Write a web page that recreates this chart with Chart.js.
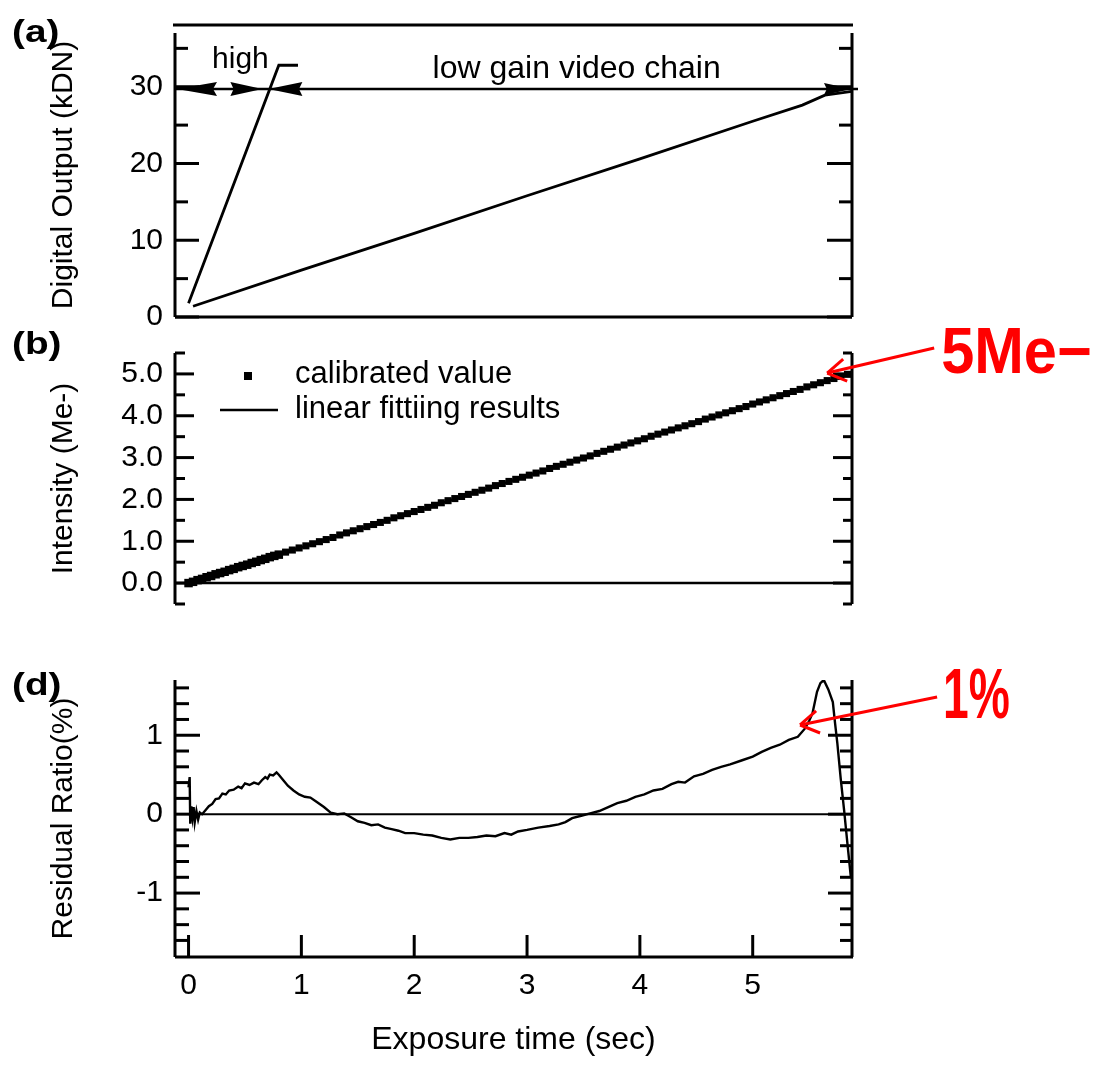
<!DOCTYPE html>
<html>
<head>
<meta charset="utf-8">
<script src="https://cdn.jsdelivr.net/npm/chart.js@4.4.1/dist/chart.umd.min.js"></script>
<style>
  html, body { margin: 0; padding: 0; background: #fff; }
  #wrap { position: relative; width: 1097px; height: 1067px; }
  #wrap canvas { position: absolute; left: 0; top: 0; }
</style>
</head>
<body>
<div id="wrap">
  <canvas id="chartA" width="1097" height="1067"></canvas>
  <canvas id="chartB" width="1097" height="1067"></canvas>
  <canvas id="chartD" width="1097" height="1067"></canvas>
</div>
<script>
// values
const highGainTime = [0.00, 0.80, 0.97];
const highGainKDN  = [1.8, 32.8, 32.8];
const lowGainTime  = [0.04, 1.0, 2.0, 3.0, 4.0, 5.0, 5.44, 5.64, 5.88];
const lowGainKDN   = [1.4, 6.1, 10.9, 15.8, 20.6, 25.5, 27.6, 28.9, 29.4];

const calTime = [0, 0.04, 0.08, 0.12, 0.16, 0.20, 0.24, 0.28, 0.32, 0.36, 0.40, 0.44, 0.48, 0.52, 0.56, 0.60, 0.64, 0.68, 0.72, 0.76, 0.80,
  0.86, 0.92, 0.98, 1.04, 1.10, 1.16, 1.22, 1.28, 1.34, 1.40, 1.46, 1.52, 1.58, 1.64, 1.70, 1.76, 1.82, 1.88, 1.94, 2.00,
  2.06, 2.12, 2.18, 2.24, 2.30, 2.36, 2.42, 2.48, 2.54, 2.60, 2.66, 2.72, 2.78, 2.84, 2.90, 2.96, 3.02, 3.08, 3.14, 3.20,
  3.26, 3.32, 3.38, 3.44, 3.50, 3.56, 3.62, 3.68, 3.74, 3.80, 3.86, 3.92, 3.98, 4.04, 4.10, 4.16, 4.22, 4.28, 4.34, 4.40,
  4.46, 4.52, 4.58, 4.64, 4.70, 4.76, 4.82, 4.88, 4.94, 5.00, 5.06, 5.12, 5.18, 5.24, 5.30, 5.36, 5.42, 5.48, 5.54, 5.60,
  5.66, 5.72, 5.78, 5.84];
const calIntensity = [0.00, 0.03, 0.07, 0.10, 0.14, 0.17, 0.21, 0.24, 0.27, 0.31, 0.34, 0.38, 0.41, 0.44, 0.48, 0.51, 0.55, 0.58, 0.62, 0.65, 0.68,
  0.74, 0.79, 0.84, 0.89, 0.94, 0.99, 1.04, 1.09, 1.15, 1.20, 1.25, 1.30, 1.35, 1.40, 1.45, 1.50, 1.56, 1.61, 1.66, 1.71,
  1.76, 1.81, 1.86, 1.92, 1.97, 2.02, 2.07, 2.12, 2.17, 2.22, 2.27, 2.33, 2.38, 2.43, 2.48, 2.53, 2.58, 2.63, 2.68, 2.74,
  2.79, 2.84, 2.89, 2.94, 2.99, 3.04, 3.10, 3.15, 3.20, 3.25, 3.30, 3.35, 3.40, 3.45, 3.51, 3.56, 3.61, 3.66, 3.71, 3.76,
  3.81, 3.86, 3.92, 3.97, 4.02, 4.07, 4.12, 4.17, 4.22, 4.28, 4.33, 4.38, 4.43, 4.48, 4.53, 4.58, 4.63, 4.69, 4.74, 4.79,
  4.84, 4.89, 4.94, 4.99];
const fitTime = [0, 5.88];
const fitIntensity = [0, 5.02];

const resTime = [0.00, 0.01, 0.015, 0.025, 0.035, 0.045, 0.055, 0.07, 0.085, 0.10,
  0.12, 0.15, 0.18, 0.21, 0.24, 0.27, 0.30, 0.33, 0.36, 0.40,
  0.44, 0.47, 0.50, 0.54, 0.58, 0.62, 0.65, 0.68, 0.70, 0.72,
  0.75, 0.78, 0.80, 0.84, 0.88, 0.93, 0.98, 1.03, 1.08, 1.14,
  1.20, 1.26, 1.32, 1.38, 1.44, 1.50, 1.56, 1.62, 1.68, 1.74,
  1.80, 1.86, 1.92, 2.00, 2.08, 2.16, 2.24, 2.32, 2.40, 2.48,
  2.56, 2.64, 2.72, 2.80, 2.86, 2.92, 3.00, 3.10, 3.20, 3.28,
  3.34, 3.40, 3.48, 3.56, 3.64, 3.72, 3.80, 3.88, 3.96, 4.04,
  4.12, 4.20, 4.28, 4.34, 4.40, 4.48, 4.56, 4.64, 4.72, 4.80,
  4.90, 5.00, 5.08, 5.16, 5.24, 5.32, 5.40, 5.46, 5.50, 5.53,
  5.57, 5.60, 5.63, 5.67, 5.71, 5.73, 5.75, 5.78, 5.81, 5.84, 5.87];
const resRatio = [0.34, 0.47, -0.12, 0.10, -0.04, 0.09, -0.10, 0.04, -0.07, 0.02,
  0.00, 0.05, 0.10, 0.13, 0.19, 0.20, 0.26, 0.25, 0.30, 0.31,
  0.35, 0.33, 0.39, 0.37, 0.40, 0.38, 0.43, 0.47, 0.45, 0.50,
  0.49, 0.53, 0.50, 0.43, 0.36, 0.30, 0.25, 0.22, 0.21, 0.15,
  0.09, 0.02, 0.00, 0.01, -0.04, -0.09, -0.11, -0.14, -0.13, -0.17,
  -0.19, -0.21, -0.24, -0.24, -0.26, -0.27, -0.30, -0.32, -0.30, -0.30,
  -0.29, -0.27, -0.28, -0.24, -0.26, -0.22, -0.20, -0.17, -0.15, -0.13,
  -0.10, -0.05, -0.02, 0.01, 0.04, 0.09, 0.14, 0.17, 0.22, 0.25,
  0.30, 0.32, 0.38, 0.41, 0.40, 0.48, 0.51, 0.56, 0.60, 0.63,
  0.68, 0.73, 0.79, 0.84, 0.88, 0.94, 0.98, 1.08, 1.18, 1.28,
  1.55, 1.66, 1.70, 1.58, 1.42, 1.15, 0.90, 0.45, 0.05, -0.38, -0.80];

// tick values
const xTicks = [0, 1, 2, 3, 4, 5];
const kdnMajor = [0, 10, 20, 30];
const kdnMinor = [5, 15, 25, 35];
const intMajor = [0, 1, 2, 3, 4, 5];
const intMinor = [-0.5, 0.5, 1.5, 2.5, 3.5, 4.5, 5.5];
const resMajor = [-1, 0, 1];
const resMinor = [-1.6, -1.4, -1.2, -0.8, -0.6, -0.4, -0.2, 0.2, 0.4, 0.6, 0.8, 1.2, 1.4, 1.6];

const FONT = '"Liberation Sans", Arial, sans-serif';
Chart.defaults.font.family = FONT;
Chart.defaults.color = '#000';
Chart.defaults.animation = false;

const pts = (xs, ys) => xs.map((x, i) => ({ x: x, y: ys[i] }));
const X_MIN = -0.12, X_MAX = 5.88;

function seg(ctx, x1, y1, x2, y2, w, color) {
  ctx.strokeStyle = color || '#000';
  ctx.lineWidth = w;
  ctx.beginPath();
  ctx.moveTo(x1, y1);
  ctx.lineTo(x2, y2);
  ctx.stroke();
}

// filled arrow head, dir = 1 points right, -1 points left
function head(ctx, tx, ty, dir, len, half) {
  ctx.fillStyle = '#000';
  ctx.beginPath();
  ctx.moveTo(tx, ty);
  ctx.lineTo(tx - dir * len, ty - half);
  ctx.lineTo(tx - dir * len * 0.9, ty);
  ctx.lineTo(tx - dir * len, ty + half);
  ctx.closePath();
  ctx.fill();
}

function stretchText(ctx, text, x, y, font, sx, color) {
  ctx.save();
  ctx.font = font;
  ctx.fillStyle = color || '#000';
  ctx.textAlign = 'left';
  ctx.textBaseline = 'alphabetic';
  ctx.translate(x, y);
  ctx.scale(sx, 1);
  ctx.fillText(text, 0, 0);
  ctx.restore();
}

function redArrow(ctx, tx, ty, dx, dy) {
  seg(ctx, tx, ty, tx + dx, ty + dy, 3, '#ff0000');
  seg(ctx, tx, ty, tx + 16, ty - 14, 3, '#ff0000');
  seg(ctx, tx, ty, tx + 20, ty + 8, 3, '#ff0000');
}

// left/right axis lines with inside ticks
function drawAxes(chart, major, minor, lenL, lenR) {
  const { ctx, chartArea: a } = chart;
  const y = chart.scales.y;
  seg(ctx, a.left, a.top, a.left, a.bottom, 3);
  seg(ctx, a.right, a.top, a.right, a.bottom, 3);
  major.forEach(v => {
    const py = y.getPixelForValue(v);
    seg(ctx, a.left, py, a.left + lenL[0], py, 3);
    seg(ctx, a.right, py, a.right - lenR[0], py, 3);
  });
  minor.forEach(v => {
    const py = y.getPixelForValue(v);
    seg(ctx, a.left, py, a.left + lenL[1], py, 3);
    seg(ctx, a.right, py, a.right - lenR[1], py, 3);
  });
}

function yAxis(min, max, ticks, title, fmt) {
  return {
    type: 'linear', min: min, max: max,
    afterFit: s => { s.width = 175; },
    afterBuildTicks: s => { s.ticks = ticks.map(v => ({ value: v })); },
    grid: { display: false, drawTicks: false },
    border: { display: false },
    ticks: { font: { size: 30 }, padding: 12, callback: fmt || (v => String(v)) },
    title: { display: true, text: title, font: { size: 30 }, padding: { top: 46, bottom: 0 } }
  };
}

const hiddenX = { type: 'linear', min: X_MIN, max: X_MAX, display: false };
const baseOpts = {
  responsive: false,
  animation: false,
  events: [],
  plugins: { legend: { display: false }, tooltip: { enabled: false } }
};

// (a) digital output
new Chart(document.getElementById('chartA'), {
  type: 'line',
  data: {
    datasets: [
      { data: pts(highGainTime, highGainKDN), borderColor: '#000', borderWidth: 2.8, pointRadius: 0, tension: 0 },
      { data: pts(lowGainTime, lowGainKDN), borderColor: '#000', borderWidth: 2.8, pointRadius: 0, tension: 0 }
    ]
  },
  options: Object.assign({}, baseOpts, {
    layout: { padding: { top: 33, bottom: 750, left: 0, right: 245 } },
    scales: { x: hiddenX, y: yAxis(0, 37, kdnMajor, 'Digital Output (kDN)') }
  }),
  plugins: [{
    id: 'frameA',
    afterDraw(chart) {
      const { ctx, chartArea: a, scales: { x, y } } = chart;
      ctx.save();
      drawAxes(chart, kdnMajor, kdnMinor, [24, 13], [25, 13]);
      seg(ctx, a.left, y.getPixelForValue(0), a.right, y.getPixelForValue(0), 3);
      seg(ctx, a.left - 2, a.top - 8, a.right + 1, a.top - 8, 3);
      // range arrows
      const ay = y.getPixelForValue(29.7);
      const mid = x.getPixelForValue(0.69);
      seg(ctx, a.left, ay, a.right + 6, ay, 2.5);
      head(ctx, a.left + 2, ay, -1, 40, 7);
      head(ctx, mid - 4, ay, 1, 32, 7);
      head(ctx, mid + 2, ay, -1, 34, 7);
      head(ctx, a.right, ay, 1, 28, 6);
      ctx.font = '30px ' + FONT;
      ctx.fillStyle = '#000';
      ctx.textAlign = 'center';
      ctx.textBaseline = 'alphabetic';
      ctx.fillText('high', x.getPixelForValue(0.46), ay - 21);
      ctx.font = '32px ' + FONT;
      ctx.fillText('low gain video chain', x.getPixelForValue(3.44), ay - 11);
      stretchText(ctx, '(a)', 12, 42, 'bold 31px ' + FONT, 1.25);
      ctx.restore();
    }
  }]
});

// (b) calibrated intensity
new Chart(document.getElementById('chartB'), {
  type: 'line',
  data: {
    datasets: [
      { data: pts(fitTime, fitIntensity), borderColor: '#000', borderWidth: 2.5, pointRadius: 0, tension: 0 },
      { data: pts(calTime, calIntensity), showLine: false, pointStyle: 'rect',
        pointRadius: c => (c.dataIndex < 21 ? 6 : 5), pointBorderWidth: 0,
        pointBackgroundColor: '#000', borderColor: '#000' }
    ]
  },
  options: Object.assign({}, baseOpts, {
    layout: { padding: { top: 353, bottom: 463, left: 0, right: 245 } },
    scales: { x: hiddenX, y: yAxis(-0.5, 5.5, intMajor, 'Intensity (Me-)', v => v.toFixed(1)) }
  }),
  plugins: [{
    id: 'frameB',
    afterDraw(chart) {
      const { ctx, chartArea: a, scales: { x, y } } = chart;
      ctx.save();
      drawAxes(chart, intMajor, intMinor, [19, 10], [19, 9]);
      seg(ctx, a.left, y.getPixelForValue(0), a.right, y.getPixelForValue(0), 2.5);
      // legend
      ctx.fillStyle = '#000';
      ctx.fillRect(a.left + 69, a.top + 19, 8, 8);
      seg(ctx, a.left + 45, a.top + 57, a.left + 103, a.top + 57, 2.5);
      ctx.font = '31px ' + FONT;
      ctx.textAlign = 'left';
      ctx.textBaseline = 'middle';
      ctx.fillText('calibrated value', a.left + 120, a.top + 21);
      ctx.fillText('linear fittiing results', a.left + 120, a.top + 56);
      // red annotation
      const tx = x.getPixelForValue(5.66), ty = y.getPixelForValue(5.02);
      redArrow(ctx, tx, ty, 107, -25);
      stretchText(ctx, '5Me\u2212', tx + 114, ty, 'bold 64px ' + FONT, 0.93, '#ff0000');
      stretchText(ctx, '(b)', 12, 354, 'bold 31px ' + FONT, 1.25);
      ctx.restore();
    }
  }]
});

// (d) residual ratio
new Chart(document.getElementById('chartD'), {
  type: 'line',
  data: {
    datasets: [
      { data: pts(resTime, resRatio), borderColor: '#000', borderWidth: 2.4, pointRadius: 0, tension: 0 }
    ]
  },
  options: Object.assign({}, baseOpts, {
    layout: { padding: { top: 680, bottom: 0, left: 0, right: 245 } },
    scales: {
      x: {
        type: 'linear', min: X_MIN, max: X_MAX,
        afterFit: s => { s.height = 110; },
        afterBuildTicks: s => { s.ticks = xTicks.map(v => ({ value: v })); },
        grid: { display: false, drawTicks: false },
        border: { display: false },
        ticks: { font: { size: 30 }, padding: 11, maxRotation: 0 },
        title: { display: true, text: 'Exposure time (sec)', font: { size: 32 }, padding: { top: 0, bottom: 8 } }
      },
      y: yAxis(-1.81, 1.70, resMajor, 'Residual Ratio(%)')
    }
  }),
  plugins: [{
    id: 'frameD',
    afterDraw(chart) {
      const { ctx, chartArea: a, scales: { x, y } } = chart;
      ctx.save();
      drawAxes(chart, resMajor, resMinor, [25, 14], [24, 12]);
      seg(ctx, a.left, a.bottom, a.right + 1, a.bottom, 3);
      xTicks.forEach(v => {
        const px = x.getPixelForValue(v);
        seg(ctx, px, a.bottom, px, a.bottom - 22, 3);
      });
      seg(ctx, x.getPixelForValue(0), y.getPixelForValue(0), x.getPixelForValue(5.82), y.getPixelForValue(0), 2);
      const tx = x.getPixelForValue(5.42), ty = y.getPixelForValue(1.13);
      redArrow(ctx, tx, ty, 137, -28);
      stretchText(ctx, '1%', tx + 143, ty - 7, 'bold 70px ' + FONT, 0.66, '#ff0000');
      stretchText(ctx, '(d)', 12, 695, 'bold 31px ' + FONT, 1.25);
      ctx.restore();
    }
  }]
});
</script>
</body>
</html>
